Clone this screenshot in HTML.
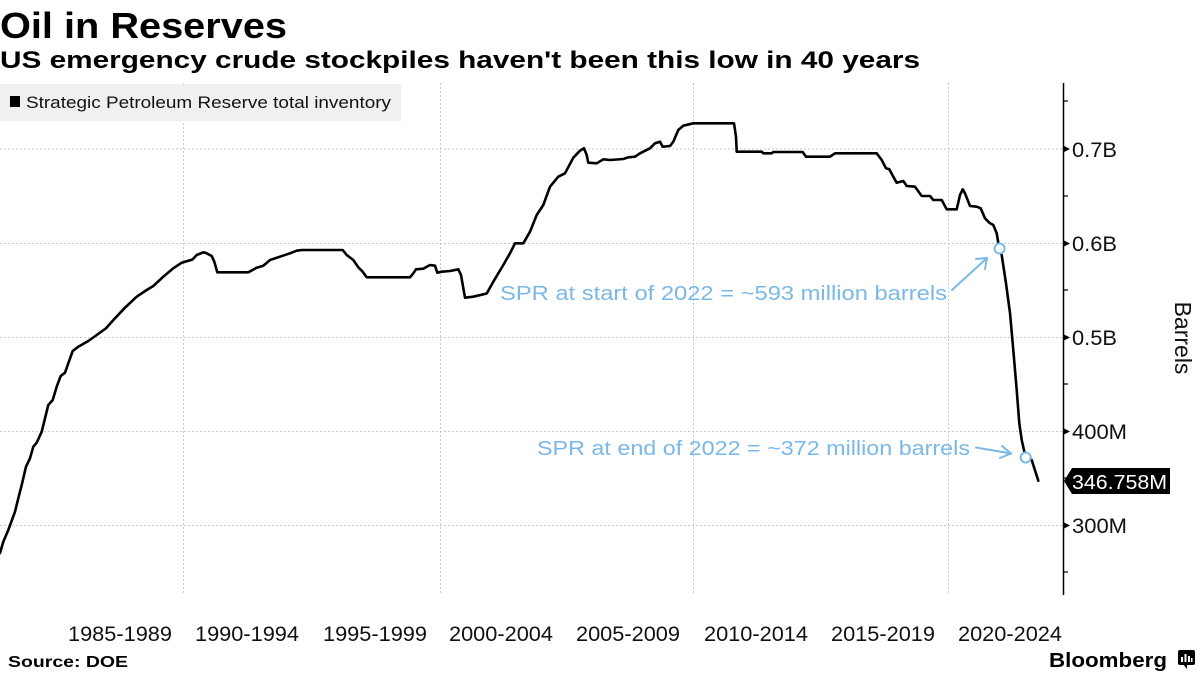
<!DOCTYPE html>
<html>
<head>
<meta charset="utf-8">
<style>
html,body{margin:0;padding:0;background:#fff;}
svg{display:block;}
text{font-family:"Liberation Sans",sans-serif;}
</style>
</head>
<body>
<svg width="1200" height="675" viewBox="0 0 1200 675" xmlns="http://www.w3.org/2000/svg">
<rect width="1200" height="675" fill="#fff"/>
<!-- Titles -->
<text x="0" y="38" font-size="36" font-weight="bold" fill="#000" textLength="287" lengthAdjust="spacingAndGlyphs">Oil in Reserves</text>
<text x="0" y="68" font-size="24" font-weight="bold" fill="#000" textLength="920" lengthAdjust="spacingAndGlyphs">US emergency crude stockpiles haven't been this low in 40 years</text>

<!-- Grid -->
<g stroke="#c8c8c8" stroke-width="1" stroke-dasharray="2,2" fill="none">
<line x1="0" y1="149" x2="1063" y2="149"/>
<line x1="0" y1="243.5" x2="1063" y2="243.5"/>
<line x1="0" y1="337.5" x2="1063" y2="337.5"/>
<line x1="0" y1="431.5" x2="1063" y2="431.5"/>
<line x1="0" y1="525.5" x2="1063" y2="525.5"/>
<line x1="183.5" y1="83" x2="183.5" y2="595"/>
<line x1="440.5" y1="83" x2="440.5" y2="595"/>
<line x1="693.5" y1="83" x2="693.5" y2="595"/>
<line x1="948.5" y1="83" x2="948.5" y2="595"/>
</g>

<!-- Legend -->
<rect x="0" y="84" width="401" height="37" fill="#f0f0f0"/>
<rect x="10" y="96" width="10" height="11" fill="#000"/>
<text x="26" y="108" font-size="17" fill="#111" textLength="365" lengthAdjust="spacingAndGlyphs">Strategic Petroleum Reserve total inventory</text>

<!-- Axis -->
<line x1="1063.5" y1="83" x2="1063.5" y2="595" stroke="#000" stroke-width="1.5"/>
<g stroke="#000" stroke-width="1.2">
<line x1="1063" y1="101" x2="1068" y2="101"/>
<line x1="1063" y1="196" x2="1068" y2="196"/>
<line x1="1063" y1="290" x2="1068" y2="290"/>
<line x1="1063" y1="384" x2="1068" y2="384"/>
<line x1="1063" y1="478" x2="1068" y2="478"/>
<line x1="1063" y1="572" x2="1068" y2="572"/>
</g>
<g fill="#000">
<polygon points="1064,146 1070,149 1064,152"/>
<polygon points="1064,240.5 1070,243.5 1064,246.5"/>
<polygon points="1064,334.5 1070,337.5 1064,340.5"/>
<polygon points="1064,428.5 1070,431.5 1064,434.5"/>
<polygon points="1064,522.5 1070,525.5 1064,528.5"/>
</g>
<g font-size="21" fill="#111">
<text x="1072" y="157" textLength="45" lengthAdjust="spacingAndGlyphs">0.7B</text>
<text x="1072" y="251" textLength="45" lengthAdjust="spacingAndGlyphs">0.6B</text>
<text x="1072" y="345" textLength="45" lengthAdjust="spacingAndGlyphs">0.5B</text>
<text x="1072" y="439" textLength="55" lengthAdjust="spacingAndGlyphs">400M</text>
<text x="1072" y="533" textLength="55" lengthAdjust="spacingAndGlyphs">300M</text>
</g>
<text transform="translate(1175,338) rotate(90)" text-anchor="middle" font-size="23" fill="#111">Barrels</text>

<!-- X labels -->
<g font-size="21" fill="#111">
<text x="68" y="641" textLength="104" lengthAdjust="spacingAndGlyphs">1985-1989</text>
<text x="195" y="641" textLength="104" lengthAdjust="spacingAndGlyphs">1990-1994</text>
<text x="323" y="641" textLength="104" lengthAdjust="spacingAndGlyphs">1995-1999</text>
<text x="449" y="641" textLength="104" lengthAdjust="spacingAndGlyphs">2000-2004</text>
<text x="576" y="641" textLength="104" lengthAdjust="spacingAndGlyphs">2005-2009</text>
<text x="704" y="641" textLength="104" lengthAdjust="spacingAndGlyphs">2010-2014</text>
<text x="831" y="641" textLength="104" lengthAdjust="spacingAndGlyphs">2015-2019</text>
<text x="958" y="641" textLength="104" lengthAdjust="spacingAndGlyphs">2020-2024</text>
</g>

<!-- Series -->
<polyline fill="none" stroke="#000" stroke-width="2.6" stroke-linejoin="round" stroke-linecap="round" points="
0,553 3.3,541.7 8.3,530 15,511.7 18.3,498.3 21.7,485 26,466.7 30,458.3 33.3,446.7 36.7,442.7 41.7,431.7 45,418.3 48.3,405 52.7,400 56.7,386.7 60.7,376 65,372.7 68.3,363.3 72.7,351 78.3,346.7 88.3,341 96.7,335 106,328.3 115,318.3 125,307.7 136.7,296.7 146.7,290 153.3,286 163.3,276.7 173.3,268.3 181.7,262.7 192.5,259.5 196.7,255 203.3,252.3 206.7,253.3 211.7,256 214.3,261.7 217.3,272.3 248.3,272.3 256.7,267.7 263.3,265.7 270,260 280,256.7 290,253.3 296.7,250.7 301.7,250 342.7,250 346.7,255 353.3,260 358.3,267.3 362.7,271.7 366.7,277.3 410,277.3 413.3,273.3 416,269.3 423.3,268.7 430,265 435,265.7 437.3,272.7 441.7,271.7 450,271 458.3,269.3 461,275 465,297.7 473.3,296.7 486.7,293.5 493.3,281.7 503.3,265 510,253.3 515,243.3 523.3,243.3 530,231.7 536.7,215 543.3,205 550,186.7 558.3,176.7 565,173.3 573.3,157.7 580,150.7 584,148.3 586.7,155 588.3,162.7 596.7,163.3 603.3,159.3 610,160 623.3,159 628.3,157.3 635,156.7 640,153.3 650,148.3 655,143.3 660,141.7 662.7,146.7 670,146 673.3,141.7 678.3,130 683.3,125.7 693.3,123.3 734,123.3 736,136.7 736.7,151.7 761.7,151.7 763.3,153.3 771.7,153.3 773.3,152 802.7,152 806,156.7 830,156.7 835,153.3 876.7,153.3 881.7,160 886,168.3 889.3,169.3 893.3,176.7 896.7,182.7 903.3,181 906.7,186 915,186.7 921.7,196 930,196 933.3,200 941.7,200 946.7,209.3 956.7,209.3 960,195 962.7,189.3 965,193.3 970,206 976.7,206.7 980.7,208.3 985,218.3 989.3,222.7 993.3,225 996.7,233.3 999.3,249 1001.7,255 1006,283.3 1010,313 1013.3,350 1016.7,390 1019.3,423.3 1021.7,440 1025.7,457.7 1031.7,460 1038.3,480.7"/>

<!-- Annotations -->
<g stroke="#7ab8e8" stroke-width="2" fill="none" stroke-linecap="round">
<circle cx="999.5" cy="248.5" r="5" fill="#fff"/>
<circle cx="1025.7" cy="457.5" r="5" fill="#fff"/>
<line x1="952" y1="290" x2="987" y2="258"/>
<polyline points="976,259 987,258 985,269"/>
<line x1="976" y1="447.5" x2="1011" y2="453.5"/>
<polyline points="1002,446 1011,453.5 1000,458"/>
</g>
<text x="500" y="300" font-size="20" fill="#7ab8e8" textLength="447" lengthAdjust="spacingAndGlyphs">SPR at start of 2022 = ~593 million barrels</text>
<text x="537" y="455" font-size="20" fill="#7ab8e8" textLength="433" lengthAdjust="spacingAndGlyphs">SPR at end of 2022 = ~372 million barrels</text>

<!-- Last value label -->
<polygon points="1064,481 1072,468 1170,468 1170,494 1072,494" fill="#000"/>
<text x="1072" y="489" font-size="20" fill="#fff" textLength="95" lengthAdjust="spacingAndGlyphs">346.758M</text>

<!-- Footer -->
<text x="8" y="667" font-size="16" font-weight="bold" fill="#000" textLength="120" lengthAdjust="spacingAndGlyphs">Source: DOE</text>
<text x="1049" y="667" font-size="20" font-weight="bold" fill="#000" textLength="118" lengthAdjust="spacingAndGlyphs">Bloomberg</text>
<rect x="1178" y="650" width="17" height="15" rx="2" fill="#000"/>
<polygon points="1183,664 1187,669 1187,664" fill="#000"/>
<g fill="#fff">
<rect x="1181" y="657" width="2" height="5"/>
<rect x="1184.5" y="654" width="2" height="8"/>
<rect x="1188" y="656" width="2" height="6"/>
<rect x="1191" y="658" width="1.5" height="4"/>
</g>
</svg>
</body>
</html>
